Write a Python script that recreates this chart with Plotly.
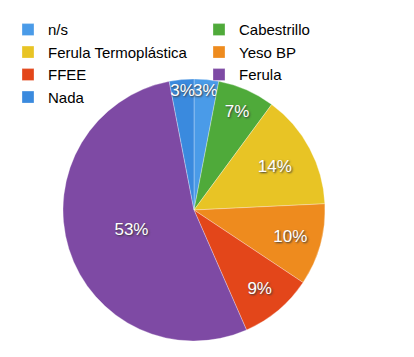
import plotly.graph_objects as go

labels = ["n/s", "Cabestrillo", "Ferula Termoplástica", "Yeso BP", "FFEE", "Ferula", "Nada"]
values = [3, 7, 14, 10, 9, 53, 3]
colors = ["#4A9BE8", "#4FAA3A", "#E8C425", "#EE8B1E", "#E3461A", "#7E4AA4", "#3A8ADE"]

W, H = 414, 357
cx, cy, r = 186, 202, 131

fig = go.Figure(go.Pie(
    labels=labels,
    values=values,
    sort=False,
    direction="clockwise",
    rotation=0,
    marker=dict(colors=colors, line=dict(color="rgba(255,255,255,0.5)", width=0.6)),
    texttemplate="%{value}%",
    textposition="inside",
    insidetextorientation="horizontal",
    textfont=dict(family="Liberation Sans, Arial", size=17, color="white",
                  shadow="1px 1px 2px #3a3a3a"),
    domain=dict(x=[(cx - r) / W, (cx + r) / W], y=[(H - cy - r) / H, (H - cy + r) / H]),
    hoverinfo="label+percent",
))

fig.update_layout(
    width=W, height=H,
    margin=dict(l=0, r=0, t=0, b=0),
    paper_bgcolor="white",
    uniformtext=dict(minsize=17, mode="show"),
    showlegend=True,
    legend=dict(
        orientation="h",
        x=0.0, xanchor="left",
        y=0.985, yanchor="top",
        entrywidth=146, entrywidthmode="pixels",
        font=dict(family="Liberation Sans, Arial", size=15, color="black"),
        tracegroupgap=0,
        bgcolor="rgba(0,0,0,0)",
    ),
)

fig.write_html("out.html")
